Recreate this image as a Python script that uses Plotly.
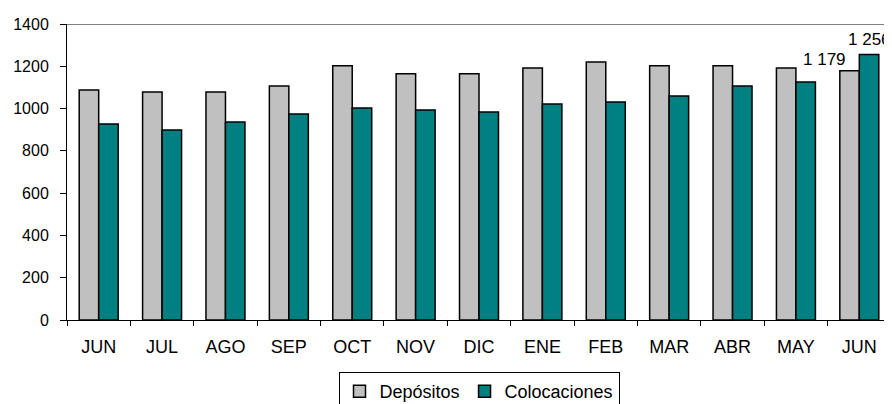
import plotly.graph_objects as go

months = ["JUN", "JUL", "AGO", "SEP", "OCT", "NOV", "DIC", "ENE", "FEB", "MAR", "ABR", "MAY", "JUN"]
depositos = [1088, 1078, 1078, 1107, 1203, 1165, 1165, 1192, 1220, 1202, 1202, 1192, 1179]
colocaciones = [927, 899, 937, 974, 1003, 993, 984, 1022, 1031, 1060, 1107, 1126, 1256]
y_ticks = [0, 200, 400, 600, 800, 1000, 1200, 1400]

FONT = "Liberation Sans, Arial, sans-serif"
idx = list(range(len(months)))

fig = go.Figure()
fig.add_trace(go.Bar(name="Depósitos", x=idx, y=depositos,
                     marker=dict(color="#C0C0C0", line=dict(color="black", width=1.5))))
fig.add_trace(go.Bar(name="Colocaciones", x=idx, y=colocaciones,
                     marker=dict(color="#008080", line=dict(color="black", width=1.5))))

def fmt(v):
    return f"{v:,}".replace(",", " ")

last = len(months) - 1
fig.add_annotation(x=last, y=depositos[-1], text=fmt(depositos[-1]), showarrow=False,
                   xanchor="right", yanchor="bottom", xshift=-11, yshift=0,
                   font=dict(size=17, color="black", family=FONT))
fig.add_annotation(x=last, y=colocaciones[-1], text=fmt(colocaciones[-1]), showarrow=False,
                   xanchor="center", yanchor="bottom", xshift=10, yshift=3,
                   font=dict(size=17, color="black", family=FONT))

fig.add_shape(type="line", xref="paper", x0=0, x1=1, yref="y", y0=1400, y1=1400,
              line=dict(color="#808080", width=2))

# page body has an 8px margin; the legend box runs past the bottom edge as in the reference
fig.update_layout(
    width=884, height=412,
    margin=dict(l=59, r=1, t=16, b=100),
    paper_bgcolor="white", plot_bgcolor="white",
    barmode="group", bargap=0.385, bargroupgap=0,
    font=dict(family=FONT, size=16, color="black"),
    showlegend=True,
    legend=dict(orientation="h", x=0.5, xanchor="center", y=-0.1757, yanchor="top",
                bordercolor="black", borderwidth=1, font=dict(size=18),
                itemwidth=30, traceorder="normal", tracegroupgap=0),
    xaxis=dict(range=[-0.5, len(months) - 0.5], tickmode="array", tickvals=idx, ticktext=months,
               ticks="", showgrid=False, zeroline=False, showline=True, linecolor="black", linewidth=1,
               tickfont=dict(size=18), ticklabelstandoff=10,
               minor=dict(tick0=-0.5, dtick=1, ticks="outside", ticklen=5, tickcolor="black", showgrid=False)),
    yaxis=dict(range=[0, 1400], tickmode="array", tickvals=y_ticks, showgrid=False, zeroline=False,
               showline=True, linecolor="black", linewidth=1, ticks="outside", ticklen=6,
               tickcolor="black", tickfont=dict(size=16), ticklabelstandoff=8),
)

fig.write_html("out.html")
